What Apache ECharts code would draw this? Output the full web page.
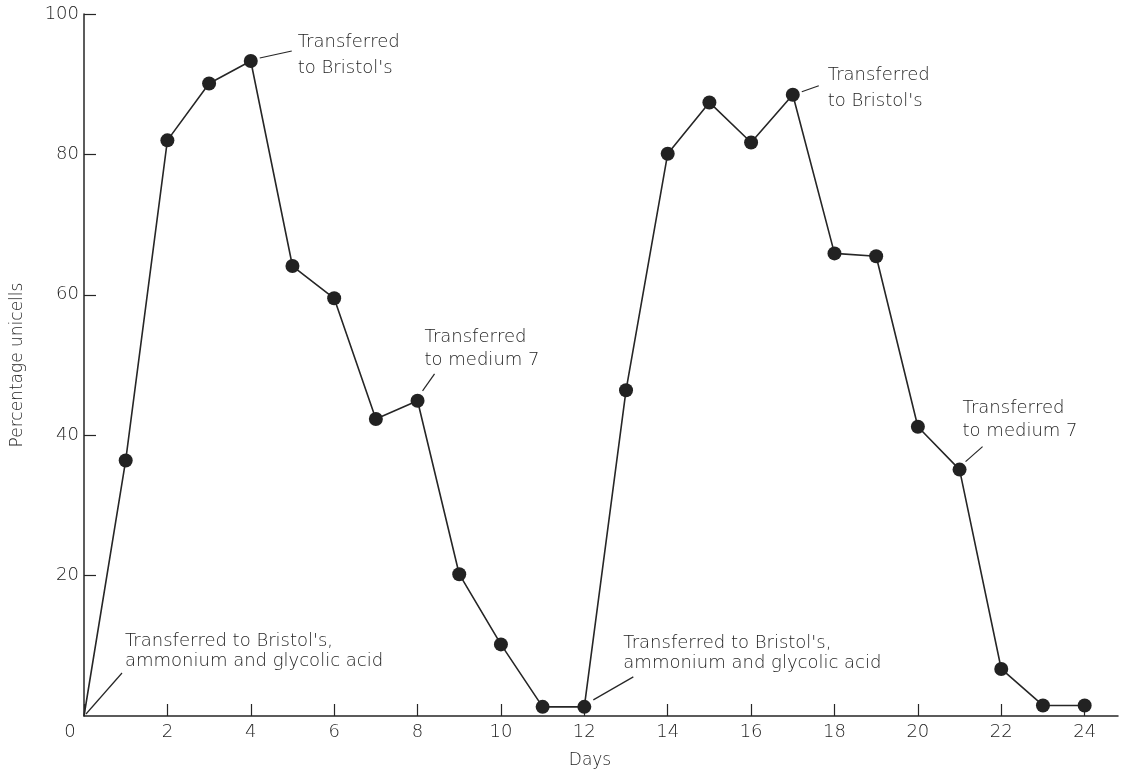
<!DOCTYPE html>
<html>
<head>
<meta charset="utf-8">
<title>Percentage unicells</title>
<script src="https://cdn.jsdelivr.net/npm/echarts@6/dist/echarts.min.js"></script>
<style>
  html, body { margin: 0; padding: 0; background: #fff; }
  #chart { width: 1122px; height: 774px; }
</style>
</head>
<body>
<div id="chart"></div>
<script>
// Days of culture and the percentage of unicells counted on each day
const days = [0, 1, 2, 3, 4, 5, 6, 7, 8, 9, 10, 11, 12, 13, 14, 15, 16, 17, 18, 19, 20, 21, 22, 23, 24];
const unicells = [0, 36.4, 82.0, 90.1, 93.3, 64.1, 59.5, 42.3, 44.9, 20.2, 10.2, 1.3, 1.3, 46.4, 80.1, 87.4, 81.7, 88.5, 65.9, 65.5, 41.2, 35.1, 6.7, 1.5, 1.5];

// Medium changes: day of the change and the note written beside it
const noteDays = [4, 17, 8, 21, 0, 12];
const noteTexts = [
  "Transferred\nto Bristol's",
  "Transferred\nto Bristol's",
  "Transferred\nto medium 7",
  "Transferred\nto medium 7",
  "Transferred to Bristol's,\nammonium and glycolic acid",
  "Transferred to Bristol's,\nammonium and glycolic acid"
];

const xTicks = { min: 0, max: 24.8, interval: 2 };
const yTicks = { min: 0, max: 100, interval: 20 };

const FONT = "'DejaVu Sans', 'Liberation Sans', sans-serif";
const WEIGHT = 300;
const INK = '#262626';
const TEXT = '#1e1e1e';

// Leader and note placement, relative to the marker each note points at
const notePlacement = [
  { leader: [9, -3, 41, -10], text: [47, -19], lh: 26 },
  { leader: [9, -3, 26, -9], text: [35, -19], lh: 26 },
  { leader: [5, -10, 17, -27], text: [7, -63], lh: 23 },
  { leader: [6, -8, 23, -23], text: [3, -61], lh: 23 },
  { leader: [2, -2, 38, -43], text: [41, -75], lh: 20 },
  { leader: [9, -7, 49, -30], text: [39, -64], lh: 20 }
];

const seriesData = days.map((d, i) => {
  const item = { value: [d, unicells[i]] };
  if (d === 0) item.symbol = 'none';
  return item;
});

const chart = echarts.init(document.getElementById('chart'), null, { renderer: 'canvas' });

chart.setOption({
  animation: false,
  backgroundColor: '#fff',
  grid: { left: 84, right: 4, top: 14, bottom: 56, containLabel: false },
  xAxis: {
    type: 'value',
    min: xTicks.min,
    max: xTicks.max,
    interval: xTicks.interval,
    name: 'Days',
    nameLocation: 'middle',
    nameGap: 36,
    nameTextStyle: { fontFamily: FONT, fontWeight: WEIGHT, fontSize: 17, color: TEXT, padding: [0, 22, 0, 0] },
    axisLine: { onZero: false, lineStyle: { color: INK, width: 1.5 } },
    axisTick: { inside: true, length: 12, lineStyle: { color: INK, width: 1.2 } },
    axisLabel: {
      showMaxLabel: false,
      margin: 7,
      fontFamily: FONT,
      fontWeight: WEIGHT,
      fontSize: 18,
      color: TEXT,
      formatter: v => (v === 0 ? '{o|0}' : String(v)),
      rich: { o: { fontFamily: FONT, fontWeight: WEIGHT, fontSize: 18, color: TEXT, padding: [0, 28, 0, 0] } }
    },
    splitLine: { show: false }
  },
  yAxis: {
    type: 'value',
    min: yTicks.min,
    max: yTicks.max,
    interval: yTicks.interval,
    name: 'Percentage unicells',
    nameLocation: 'middle',
    nameGap: 58,
    nameTextStyle: { fontFamily: FONT, fontWeight: WEIGHT, fontSize: 17, color: TEXT },
    axisLine: { show: true, onZero: false, lineStyle: { color: INK, width: 1.5 } },
    axisTick: { show: true, inside: true, length: 12, lineStyle: { color: INK, width: 1.2 } },
    axisLabel: { showMinLabel: false, margin: 5, fontFamily: FONT, fontWeight: WEIGHT, fontSize: 18, color: TEXT },
    splitLine: { show: false }
  },
  series: [{
    type: 'line',
    data: seriesData,
    symbol: 'circle',
    symbolSize: 14,
    itemStyle: { color: '#222' },
    lineStyle: { color: INK, width: 1.6 },
    z: 3
  }]
});

// Notes with their leader lines, anchored to the data points they describe
function drawNotes() {
  const elements = [];
  noteDays.forEach((d, i) => {
    const p = chart.convertToPixel({ seriesIndex: 0 }, [d, unicells[days.indexOf(d)]]);
    const pl = notePlacement[i];
    elements.push({
      type: 'line',
      shape: { x1: p[0] + pl.leader[0], y1: p[1] + pl.leader[1], x2: p[0] + pl.leader[2], y2: p[1] + pl.leader[3] },
      style: { stroke: INK, lineWidth: 1.2 },
      silent: true
    });
    elements.push({
      type: 'text',
      x: p[0] + pl.text[0],
      y: p[1] + pl.text[1] - pl.lh / 2,
      style: {
        text: noteTexts[i],
        fill: TEXT,
        font: WEIGHT + ' 18px ' + FONT,
        lineHeight: pl.lh,
        align: 'left',
        verticalAlign: 'top'
      },
      silent: true
    });
  });
  chart.setOption({ graphic: { elements } });
}
drawNotes();
</script>
</body>
</html>
